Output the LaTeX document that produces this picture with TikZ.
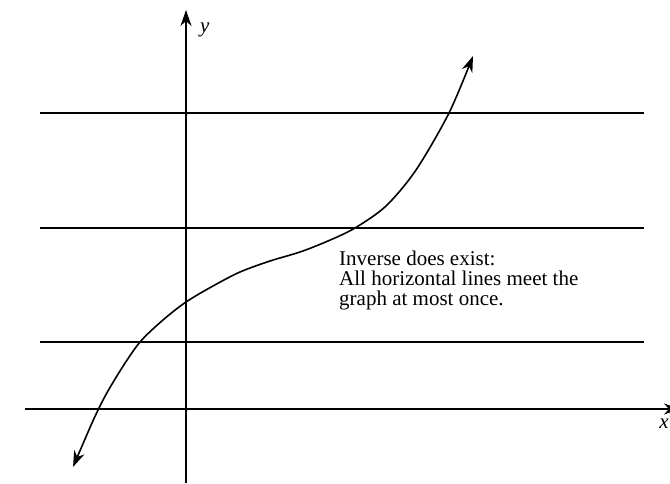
\documentclass[tikz,border=0pt]{standalone}
\usepackage{fontspec}
\setmainfont{Liberation Serif}
\usetikzlibrary{arrows.meta}

\begin{document}
\begin{tikzpicture}[x=1pt, y=1pt,
  every node/.style={font=\fontsize{21}{20}\selectfont},
  axis/.style={line width=1.6pt, -{Stealth[length=16pt, width=11pt, inset=5pt]}},
  hline/.style={line width=1.5pt},
  graph/.style={line width=1.6pt, {Stealth[length=16pt, width=11pt, inset=5pt]}-{Stealth[length=16pt, width=11pt, inset=5pt]}},
  axlabel/.style={font=\fontsize{21}{20}\selectfont\itshape, inner sep=0pt}
]
\useasboundingbox (-186,-74) rectangle (484,409);

% axes
\coordinate (ybot) at (0,-74);
\coordinate (ytop) at (0,399);
\coordinate (xleft) at (-161,0);
\coordinate (xright) at (494,0);
\draw[axis] (ybot) -- (ytop);
\draw[axis] (xleft) -- (xright);
\node[axlabel, anchor=west] (ylab) at (14,379) {y};
\node[axlabel, anchor=east] (xlab) at (483,-15) {x};

% horizontal test lines
\foreach \h in {67,181,296}
  \draw[hline] (-146,\h) -- (458,\h);

% the graph
\draw[graph] plot[smooth, tension=0.5] coordinates {
  (-113,-58) (-86,3) (-66,38) (-46,67) (-23,89) (0,107) (27,123)
  (54,137) (84,148) (114,157) (142,168) (169,181) (200,203) (230,239)
  (263,296) (287,353)};

\node[anchor=north west, align=left, inner sep=0pt] (note) at (153,158)
  {Inverse does exist:\\All horizontal lines meet the\\graph at most once.};
\end{tikzpicture}
\end{document}
